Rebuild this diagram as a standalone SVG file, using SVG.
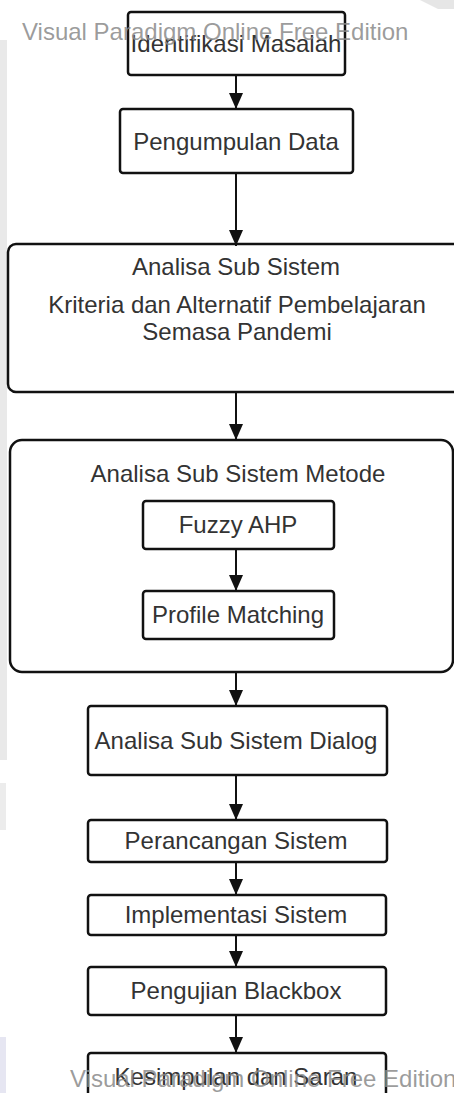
<svg xmlns="http://www.w3.org/2000/svg" width="454" height="1093" viewBox="0 0 454 1093">
<style>
.box{fill:#ffffff;stroke:#111111;stroke-width:2.5}
.lbl{font-family:"Liberation Sans",Arial,sans-serif;font-size:24px;fill:#333333;text-anchor:middle}
.wm{font-family:"Liberation Sans",Arial,sans-serif;font-size:24px;fill:#8a8a8a;fill-opacity:0.85}
.con{stroke:#111111;stroke-width:2;fill:none}
</style>
<defs>
<marker id="ah" markerUnits="userSpaceOnUse" markerWidth="16" markerHeight="14" refX="16" refY="7" orient="auto">
<path d="M0,0 L16,7 L0,14 z" fill="#111111"/>
</marker>
</defs>
<rect x="0" y="0" width="454" height="1093" fill="#ffffff"/>
<g id="background">
<rect x="0" y="40" width="7" height="720" fill="#e9e9e9"/>
<rect x="0" y="783" width="6" height="47" fill="#ececec"/>
<rect x="0" y="1037" width="6" height="56" fill="#e6e6f2"/>
<polygon points="420,0 454,0 454,9 438,9" fill="#e6e6e6"/>
</g>
<g id="n1"><rect class="box" x="128" y="12" width="217" height="63" rx="3"/><text class="lbl" x="236" y="52">Identifikasi Masalah</text></g>
<g id="n2"><rect class="box" x="120" y="109" width="233" height="64" rx="3"/><text class="lbl" x="236" y="150">Pengumpulan Data</text></g>
<g id="n3"><rect class="box" x="8" y="244" width="460" height="148" rx="8"/>
<text class="lbl" x="236" y="275">Analisa Sub Sistem</text>
<text class="lbl" x="237" y="313">Kriteria dan Alternatif Pembelajaran</text>
<text class="lbl" x="237" y="340">Semasa Pandemi</text></g>
<g id="n4"><rect class="box" x="10" y="440" width="443" height="232" rx="12"/>
<text class="lbl" x="238" y="482">Analisa Sub Sistem Metode</text></g>
<g id="n4a"><rect class="box" x="143" y="501" width="191" height="48" rx="3"/><text class="lbl" x="238" y="533">Fuzzy AHP</text></g>
<g id="n4b"><rect class="box" x="143" y="591" width="191" height="48" rx="3"/><text class="lbl" x="238" y="623">Profile Matching</text></g>
<g id="n5"><rect class="box" x="88" y="706" width="299" height="69" rx="3"/><text class="lbl" x="236" y="749">Analisa Sub Sistem Dialog</text></g>
<g id="n6"><rect class="box" x="88" y="820" width="299" height="42" rx="3"/><text class="lbl" x="236" y="849">Perancangan Sistem</text></g>
<g id="n7"><rect class="box" x="88" y="895" width="298" height="40" rx="3"/><text class="lbl" x="236" y="923">Implementasi Sistem</text></g>
<g id="n8"><rect class="box" x="88" y="967" width="298" height="48" rx="3"/><text class="lbl" x="236" y="999">Pengujian Blackbox</text></g>
<g id="n9"><rect class="box" x="88" y="1053" width="298" height="50" rx="3"/><text class="lbl" x="236" y="1085">Kesimpulan dan Saran</text></g>
<g id="connectors">
<line class="con" x1="236" y1="76" x2="236" y2="109" marker-end="url(#ah)"/>
<line class="con" x1="236" y1="174" x2="236" y2="246" marker-end="url(#ah)"/>
<line class="con" x1="236" y1="393" x2="236" y2="440" marker-end="url(#ah)"/>
<line class="con" x1="236" y1="550" x2="236" y2="591" marker-end="url(#ah)"/>
<line class="con" x1="236" y1="673" x2="236" y2="706" marker-end="url(#ah)"/>
<line class="con" x1="236" y1="776" x2="236" y2="820" marker-end="url(#ah)"/>
<line class="con" x1="236" y1="863" x2="236" y2="895" marker-end="url(#ah)"/>
<line class="con" x1="236" y1="936" x2="236" y2="967" marker-end="url(#ah)"/>
<line class="con" x1="236" y1="1016" x2="236" y2="1053" marker-end="url(#ah)"/>
</g>
<g id="watermarks">
<text class="wm" x="22" y="40">Visual Paradigm Online Free Edition</text>
<text class="wm" x="70" y="1087">Visual Paradigm Online Free Edition</text>
</g>
</svg>
